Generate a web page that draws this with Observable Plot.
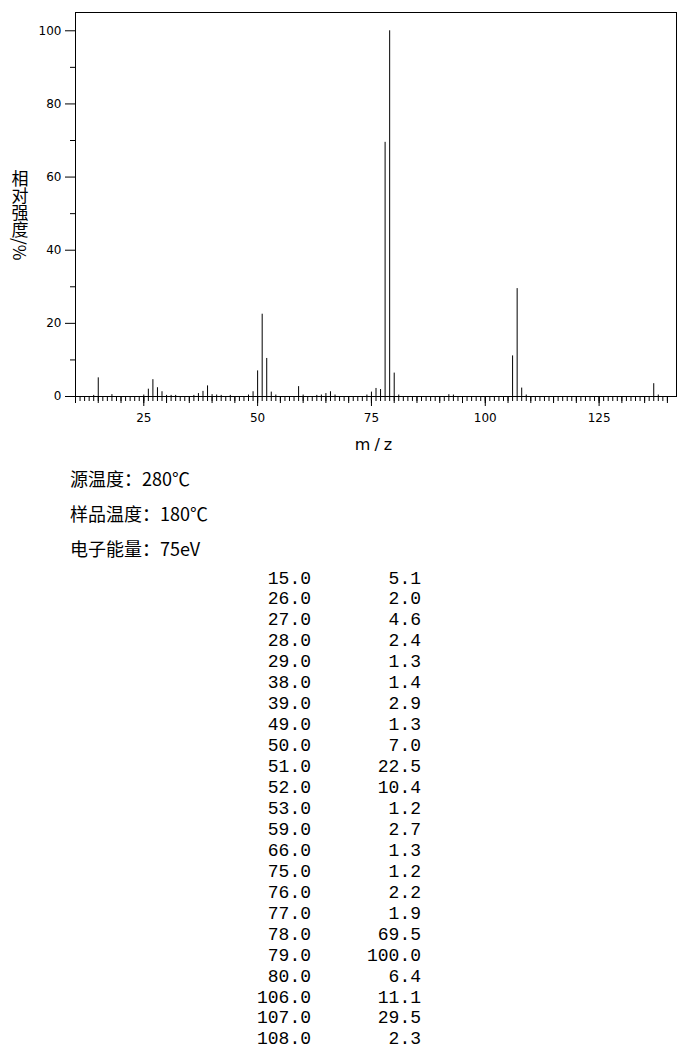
<!DOCTYPE html>
<html>
<head>
<meta charset="utf-8">
<script src="https://cdn.jsdelivr.net/npm/d3@7"></script>
<script src="https://cdn.jsdelivr.net/npm/@observablehq/plot@0.6"></script>
<style>
  html, body { margin: 0; padding: 0; background: #fff; }
  #root { width: 680px; }
  svg { display: block; }
</style>
</head>
<body>
<div id="root"></div>
<script>
// ---- data ----
const mz = [14,15,18,25,26,27,28,29,30,31,32,36,37,38,39,40,41,42,44,48,49,50,51,52,53,54,59,60,63,64,65,66,67,74,75,76,77,78,79,80,81,92,93,106,107,108,109,137,138];
const intensity = [0.3,5.1,0.5,0.4,2.0,4.6,2.4,1.3,0.3,0.3,0.3,0.3,0.8,1.4,2.9,0.5,0.4,0.3,0.3,0.4,1.3,7.0,22.5,10.4,1.2,0.4,2.7,0.4,0.3,0.4,0.8,1.3,0.4,0.4,1.2,2.2,1.9,69.5,100.0,6.4,0.4,0.5,0.4,11.1,29.5,2.3,0.4,3.5,0.4];

const xLabelTicks = [25, 50, 75, 100, 125];
const yLabelTicks = [0, 20, 40, 60, 80, 100];
const yMinorTicks = [10, 30, 50, 70, 90];
const xDomain = [10, 142];
const yDomain = [0, 105];

const xTitle = "m/z";
const yTitle = "相对强度/%";
const infoLines = ["源温度：280℃", "样品温度：180℃", "电子能量：75eV"];
const tableThreshold = 1.0;

const peaks = mz.map((m, i) => ({mz: m, intensity: intensity[i]}));
const xMinorTicks = d3.range(xDomain[0], 141, 1);
const xMidTicks = d3.range(xDomain[0], 141, 5);
const noText = () => "";

// ---- chart ----
const chart = Plot.plot({
  width: 680,
  height: 460,
  marginLeft: 75,
  marginRight: 4,
  marginTop: 12,
  marginBottom: 64,
  style: {fontFamily: "DejaVu Sans", fontSize: "12px", color: "black", background: "white", overflow: "visible"},
  x: {domain: xDomain, label: null},
  y: {domain: yDomain, label: null},
  marks: [
    Plot.frame({stroke: "black"}),
    Plot.axisX(xMinorTicks, {tickSize: 5, tickFormat: noText, stroke: "black", label: null}),
    Plot.axisX(xMidTicks, {tickSize: 7, tickFormat: noText, stroke: "black", label: null}),
    Plot.axisX(xLabelTicks, {tickSize: 10, tickPadding: 7, stroke: "black", fill: "black", label: null}),
    Plot.axisY(yMinorTicks, {tickSize: 5, tickFormat: noText, stroke: "black", label: null}),
    Plot.axisY(yLabelTicks, {tickSize: 10, tickPadding: 4, stroke: "black", fill: "black", label: null}),
    Plot.ruleX(peaks, {x: "mz", y1: 0, y2: "intensity", stroke: "black", strokeWidth: 1})
  ]
});

const svg = d3.select(chart);
const xs = chart.scale("x").range;
svg.append("text")
  .attr("x", (xs[0] + xs[1]) / 2)
  .attr("y", 450)
  .attr("text-anchor", "middle")
  .style("font-family", "DejaVu Sans")
  .style("font-size", "16px")
  .style("letter-spacing", "4px")
  .attr("fill", "black")
  .text(xTitle);

// vertical y-axis title: upright CJK, Latin unit turned sideways (vertical-rl)
svg.append("text")
  .attr("x", 20)
  .attr("y", 170)
  .attr("text-anchor", "start")
  .style("writing-mode", "vertical-rl")
  .style("font-family", "'Noto Sans CJK SC'")
  .style("font-size", "17px")
  .attr("fill", "black")
  .text(yTitle);

document.getElementById("root").appendChild(chart);

// ---- info lines and peak table below the chart ----
const below = d3.create("svg")
  .attr("width", 680)
  .attr("height", 589)
  .style("background", "white");

below.selectAll("text.info")
  .data(infoLines)
  .join("text")
  .attr("class", "info")
  .attr("x", 70)
  .attr("y", (d, i) => 26 + i * 34.75)
  .style("font-family", "'Noto Sans CJK SC'")
  .style("font-size", "18px")
  .attr("fill", "black")
  .text(d => d);

const rows = peaks.filter(d => d.intensity >= tableThreshold);
const rowG = below.selectAll("g.row")
  .data(rows)
  .join("g")
  .attr("class", "row")
  .attr("transform", (d, i) => `translate(0,${123.5 + i * 20.95})`)
  .style("font-family", "'Liberation Mono'")
  .style("font-size", "18px")
  .attr("fill", "black");
rowG.append("text").attr("x", 311).attr("text-anchor", "end").text(d => d.mz.toFixed(1));
rowG.append("text").attr("x", 421).attr("text-anchor", "end").text(d => d.intensity.toFixed(1));

document.getElementById("root").appendChild(below.node());
</script>
</body>
</html>
